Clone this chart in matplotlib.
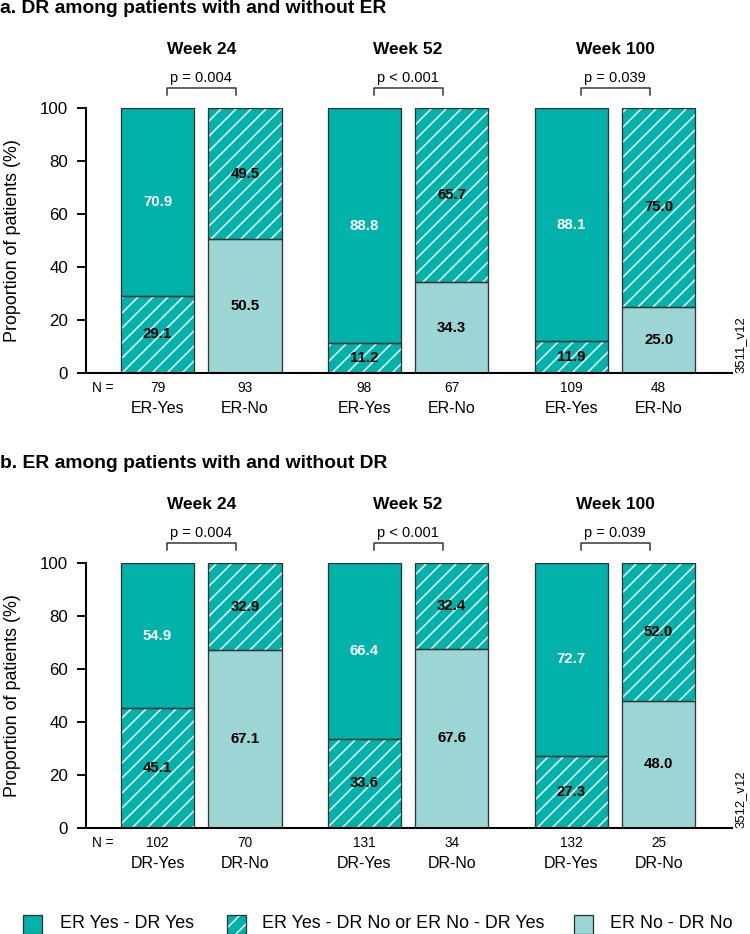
import numpy as np
import matplotlib
matplotlib.use('Agg')
import matplotlib.pyplot as plt
from matplotlib.patches import Rectangle

plt.rcParams['font.family'] = ['Liberation Sans', 'DejaVu Sans']
plt.rcParams['hatch.linewidth'] = 0.9

weeks = ['Week 24', 'Week 52', 'Week 100']
p_values = ['p = 0.004', 'p < 0.001', 'p = 0.039']

# panel a: DR among patients with / without ER
a_n_yes = [79, 98, 109]
a_n_no = [93, 67, 48]
a_yes_mixed = [29.1, 11.2, 11.9]
a_yes_both = [70.9, 88.8, 88.1]
a_no_neither = [50.5, 34.3, 25.0]
a_no_mixed = [49.5, 65.7, 75.0]

# panel b: ER among patients with / without DR
b_n_yes = [102, 131, 132]
b_n_no = [70, 34, 25]
b_yes_mixed = [45.1, 33.6, 27.3]
b_yes_both = [54.9, 66.4, 72.7]
b_no_neither = [67.1, 67.6, 48.0]
b_no_mixed = [32.9, 32.4, 52.0]

legend_labels = ['ER Yes - DR Yes', 'ER Yes - DR No or ER No - DR Yes', 'ER No - DR No']

TEAL = '#00b2a9'
LIGHT = '#9bd6d4'
EDGE = '#333333'
STRIPE = '#dff4f2'
HATCH = '///'

W, H, DPI = 750, 934, 135


def draw_panel(ax, yes_mixed, yes_both, no_neither, no_mixed, n_yes, n_no, yes_lab, no_lab):
    x = np.arange(3) * 2.37
    xy, xn = x, x + 1
    w = 0.84

    ax.bar(xy, yes_mixed, w, color=TEAL, edgecolor=STRIPE, hatch=HATCH, linewidth=0)
    ax.bar(xy, yes_both, w, bottom=yes_mixed, color=TEAL, linewidth=0)
    ax.bar(xn, no_neither, w, color=LIGHT, linewidth=0)
    ax.bar(xn, no_mixed, w, bottom=no_neither, color=TEAL, edgecolor=STRIPE, hatch=HATCH, linewidth=0)
    for xs, lo, hi in [(xy, yes_mixed, yes_both), (xn, no_neither, no_mixed)]:
        ax.bar(xs, lo, w, fill=False, edgecolor=EDGE, linewidth=0.7)
        ax.bar(xs, hi, w, bottom=lo, fill=False, edgecolor=EDGE, linewidth=0.7)

    lab = dict(ha='center', va='center', fontsize=8, fontweight='bold')
    for i in range(3):
        ax.text(xy[i], yes_mixed[i] / 2, f'{yes_mixed[i]:.1f}', color='black', **lab)
        ax.text(xy[i], yes_mixed[i] + yes_both[i] / 2, f'{yes_both[i]:.1f}', color='white', **lab)
        ax.text(xn[i], no_neither[i] / 2, f'{no_neither[i]:.1f}', color='black', **lab)
        ax.text(xn[i], no_neither[i] + no_mixed[i] / 2, f'{no_mixed[i]:.1f}', color='black', **lab)

        mid = (xy[i] + xn[i]) / 2
        ax.text(mid, 120.4, weeks[i], ha='center', va='baseline', fontsize=9.3,
                fontweight='bold', clip_on=False)
        ax.text(mid, 109.8, p_values[i], ha='center', va='baseline', fontsize=7.8, clip_on=False)
        bx0, bx1 = xy[i] + 0.11, xn[i] - 0.10
        ax.plot([bx0, bx0, bx1, bx1], [104.9, 107.5, 107.5, 104.9], color=EDGE,
                lw=0.8, clip_on=False)

        ax.text(xy[i], -7.2, str(n_yes[i]), ha='center', va='baseline', fontsize=7.3, clip_on=False)
        ax.text(xn[i], -7.2, str(n_no[i]), ha='center', va='baseline', fontsize=7.3, clip_on=False)
        ax.text(xy[i], -15.1, yes_lab, ha='center', va='baseline', fontsize=8.5, clip_on=False)
        ax.text(xn[i], -15.1, no_lab, ha='center', va='baseline', fontsize=8.5, clip_on=False)
    ax.text(-0.63, -7.2, 'N =', ha='center', va='baseline', fontsize=7.3, clip_on=False)

    ax.set_xlim(-0.82, 6.58)
    ax.set_ylim(0, 100)
    ax.set_yticks(range(0, 101, 20))
    ax.set_xticks([])
    for s in ['top', 'right']:
        ax.spines[s].set_visible(False)
    for s in ['left', 'bottom']:
        ax.spines[s].set_linewidth(1.1)
    ax.tick_params(axis='y', length=4.8, width=1.0, labelsize=9, pad=4.8)


fig = plt.figure(figsize=(W / DPI, H / DPI), dpi=DPI)

ax_a = fig.add_axes([86 / W, 1 - 373 / H, 646 / W, 265 / H])
ax_b = fig.add_axes([86 / W, 1 - 828 / H, 646 / W, 265 / H])

draw_panel(ax_a, a_yes_mixed, a_yes_both, a_no_neither, a_no_mixed, a_n_yes, a_n_no, 'ER-Yes', 'ER-No')
draw_panel(ax_b, b_yes_mixed, b_yes_both, b_no_neither, b_no_mixed, b_n_yes, b_n_no, 'DR-Yes', 'DR-No')

fig.text(0, 1 - 13 / H, 'a. DR among patients with and without ER', ha='left', va='baseline',
         fontsize=10.3, fontweight='bold')
fig.text(0, 1 - 468 / H, 'b. ER among patients with and without DR', ha='left', va='baseline',
         fontsize=10.3, fontweight='bold')

for yc in [240.5, 695.5]:
    fig.text(13 / W, 1 - yc / H, 'Proportion of patients (%)', rotation=90, ha='center',
             va='center', fontsize=9.5)

fig.text(741 / W, 1 - 373 / H, '3511_v12', rotation=90, ha='center', va='bottom', fontsize=7)
fig.text(741 / W, 1 - 828 / H, '3512_v12', rotation=90, ha='center', va='bottom', fontsize=7)

# legend, drawn by hand
sq = 19
leg_y = 924
items = [(23, 60, TEAL, None), (227, 262, TEAL, HATCH), (574, 610, LIGHT, None)]
for (sx, tx, col, hatch), label in zip(items, legend_labels):
    r = (sx / W, 1 - (leg_y + sq / 2) / H)
    if hatch:
        fig.add_artist(Rectangle(r, sq / W, sq / H, transform=fig.transFigure, facecolor=col,
                                 edgecolor=STRIPE, hatch=hatch, linewidth=0))
        fig.add_artist(Rectangle(r, sq / W, sq / H, transform=fig.transFigure, fill=False,
                                 edgecolor=EDGE, linewidth=0.7))
    else:
        fig.add_artist(Rectangle(r, sq / W, sq / H, transform=fig.transFigure, facecolor=col,
                                 edgecolor=EDGE, linewidth=0.7))
    fig.text(tx / W, 1 - leg_y / H, label, ha='left', va='center', fontsize=9.5)

fig.savefig('out.png', dpi=DPI)
